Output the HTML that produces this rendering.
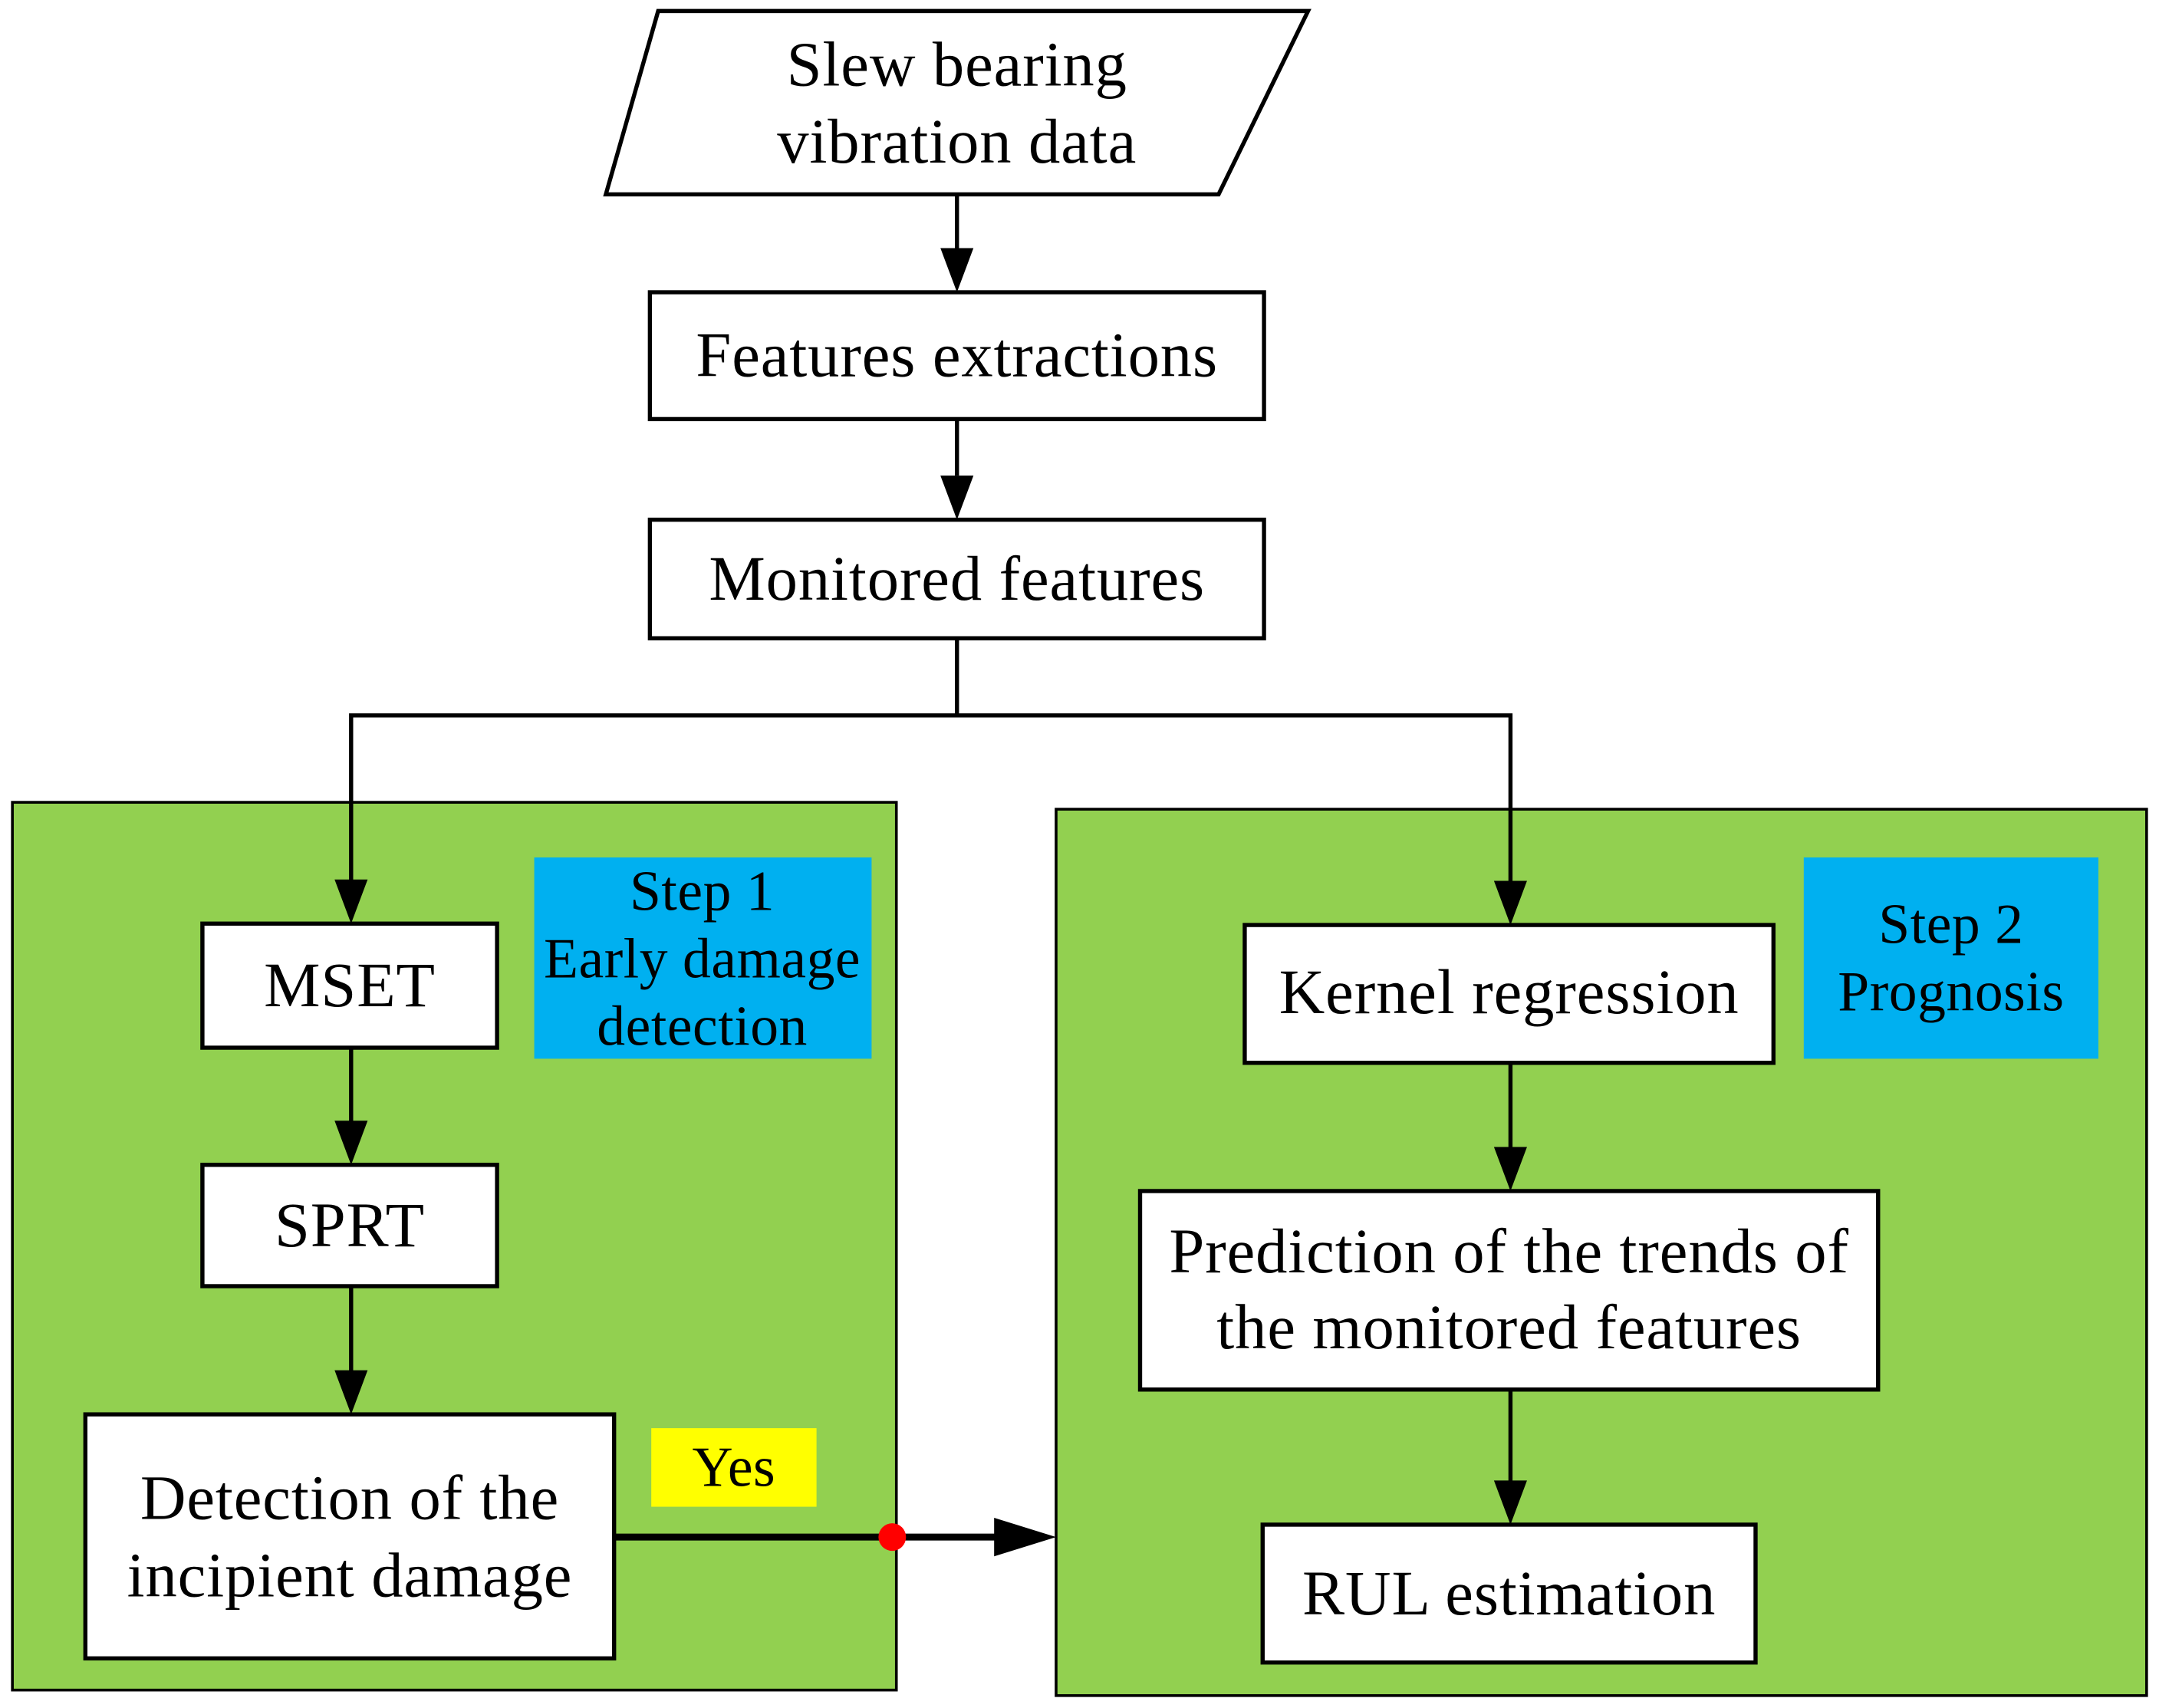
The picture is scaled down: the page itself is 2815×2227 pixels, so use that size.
<!DOCTYPE html>
<html><head><meta charset="utf-8"><style>html,body{margin:0;padding:0;background:#fff}svg{display:block}</style></head>
<body>
<svg width="2815" height="2227" viewBox="0 0 1568 1239" preserveAspectRatio="none" xmlns="http://www.w3.org/2000/svg">
<g font-family="Liberation Serif, serif" font-size="46" text-anchor="middle" fill="#000" letter-spacing="0.5">
<rect x="9" y="582" width="642" height="644" fill="#92d050" stroke="#000" stroke-width="2"/>
<rect x="767" y="587" width="792" height="643" fill="#92d050" stroke="#000" stroke-width="2"/>
<rect x="388" y="622" width="245" height="146" fill="#00b0f0"/>
<rect x="1310" y="622" width="214" height="146" fill="#00b0f0"/>
<rect x="473" y="1036" width="120" height="57" fill="#ffff00"/>
<polygon points="478,8 950,8 885,141 440,141" fill="#fff" stroke="#000" stroke-width="3"/>
<text x="695" y="62">Slew bearing</text>
<text x="695" y="118">vibration data</text>
<g stroke="#000" stroke-width="3" fill="none">
<line x1="695" y1="141" x2="695" y2="180"/>
<line x1="695" y1="304" x2="695" y2="345"/>
<polyline points="695,463 695,519 255,519 255,640"/>
<polyline points="695,519 1097,519 1097,640"/>
<line x1="255" y1="760" x2="255" y2="815"/>
<line x1="255" y1="933" x2="255" y2="996"/>
<line x1="1097" y1="771" x2="1097" y2="834"/>
<line x1="1097" y1="1008" x2="1097" y2="1076"/>
<line x1="446" y1="1115" x2="725" y2="1115" stroke-width="5"/>
</g>
<g fill="#000">
<polygon points="683,180 707,180 695,212"/>
<polygon points="683,345 707,345 695,377"/>
<polygon points="243,638 267,638 255,670"/>
<polygon points="1085,639 1109,639 1097,671"/>
<polygon points="243,813 267,813 255,845"/>
<polygon points="243,994 267,994 255,1026"/>
<polygon points="1085,832 1109,832 1097,864"/>
<polygon points="1085,1074 1109,1074 1097,1106"/>
<polygon points="722,1101 767,1115 722,1129"/>
</g>
<circle cx="648" cy="1115" r="10" fill="#ff0000"/>
<g fill="#fff" stroke="#000" stroke-width="3">
<rect x="472" y="212" width="446" height="92"/>
<rect x="472" y="377" width="446" height="86"/>
<rect x="147" y="670" width="214" height="90"/>
<rect x="147" y="845" width="214" height="88"/>
<rect x="62" y="1026" width="384" height="177"/>
<rect x="904" y="671" width="384" height="100"/>
<rect x="828" y="864" width="536" height="144"/>
<rect x="917" y="1106" width="358" height="100"/>
</g>
<text x="695" y="273">Features extractions</text>
<text x="695" y="435">Monitored features</text>
<text x="254" y="730">MSET</text>
<text x="254" y="904">SPRT</text>
<text x="254" y="1102">Detection of the</text>
<text x="254" y="1158">incipient damage</text>
<text x="510" y="660" font-size="41" letter-spacing="0.3">Step 1</text>
<text x="510" y="709" font-size="41" letter-spacing="0.3">Early damage</text>
<text x="510" y="758" font-size="41" letter-spacing="0.3">detection</text>
<text x="533" y="1078" font-size="41" letter-spacing="0.3">Yes</text>
<text x="1096" y="735">Kernel regression</text>
<text x="1417" y="684" font-size="41" letter-spacing="0.3">Step 2</text>
<text x="1417" y="733" font-size="41" letter-spacing="0.3">Prognosis</text>
<text x="1096" y="923">Prediction of the trends of</text>
<text x="1096" y="978">the monitored features</text>
<text x="1096" y="1171">RUL estimation</text>
</g>
</svg>
</body></html>
